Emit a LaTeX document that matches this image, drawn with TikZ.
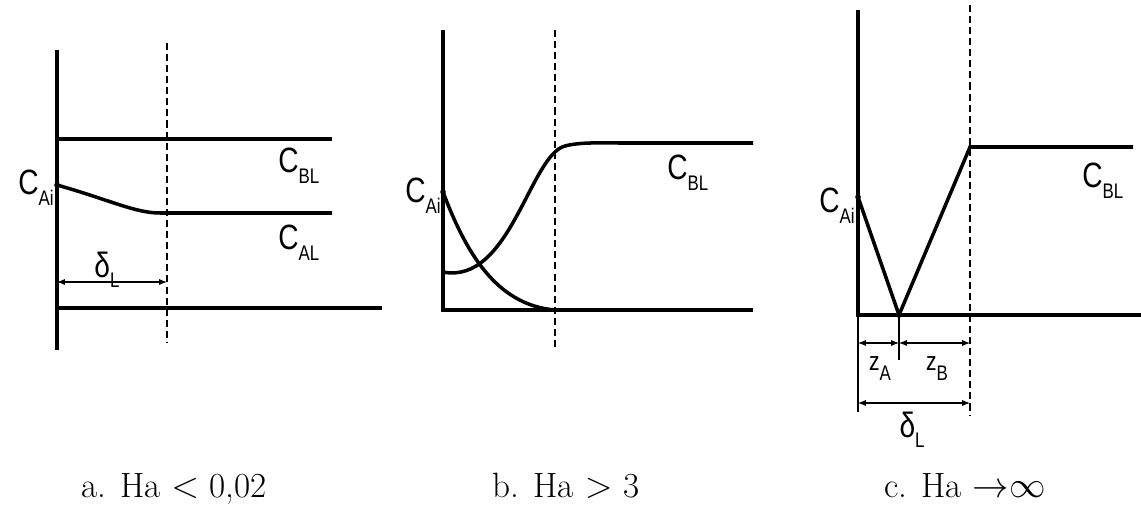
\documentclass[tikz,border=0pt]{standalone}
\usepackage{fontspec}
\newfontfamily\lblfont[FakeStretch=0.8]{Liberation Sans}
\usetikzlibrary{arrows.meta,positioning,calc}
\newcommand{\conc}[2]{#1\raisebox{-6pt}{\fontsize{12}{12}\selectfont #2}}

\begin{document}
\begin{tikzpicture}[x=0.02cm,y=-0.02cm,
  axis/.style={line width=2.3pt},
  curve/.style={line width=2pt},
  limit/.style={line width=1.2pt,dash pattern=on 4pt off 2.3pt},
  dim/.style={line width=0.6pt,{Latex[length=4.5pt,width=3.5pt]}-{Latex[length=4.5pt,width=3.5pt]}},
  ext/.style={line width=0.6pt},
  lbl/.style={font=\lblfont\fontsize{20}{20}\selectfont,inner sep=0pt},
  zlbl/.style={font=\lblfont\fontsize{15}{15}\selectfont,inner sep=0pt},
  capt/.style={font=\fontsize{20}{24}\selectfont,inner sep=0pt}]
  \useasboundingbox (0,0) rectangle (1141,506);
  % a. Ha < 0,02
  \coordinate (aTop) at (57,50);
  \coordinate (aBot) at (57,350);
  \coordinate (aBa) at (57,139);
  \coordinate (aBb) at (332,139);
  \coordinate (aCi) at (57,185);
  \coordinate (aAk) at (160,213);
  \coordinate (aAb) at (332,213);
  \coordinate (aLa) at (57,308);
  \coordinate (aLb) at (382,308);
  \coordinate (aDa) at (167,43);
  \coordinate (aDb) at (167,342);
  \coordinate (aWa) at (57,282);
  \coordinate (aWb) at (167,282);
  \draw[axis] (aTop) -- (aBot);
  \draw[curve] (aBa) -- (aBb);
  \draw[curve] (aCi) .. controls (110,200) and (135,213) .. (aAk) -- (aAb);
  \draw[curve] (aLa) -- (aLb);
  \draw[limit] (aDa) -- (aDb);
  \draw[dim] (aWa) -- (aWb);
  \fill (aCi) circle (1.6pt);
  \node[lbl,anchor=base east] (aCAi) at (54,195) {\conc{C}{Ai}};
  \node[lbl,anchor=base west] (aCBL) at (278,173) {\conc{C}{BL}};
  \node[lbl,anchor=base west] (aCAL) at (278,250) {\conc{C}{AL}};
  \node[lbl,anchor=base] (aDL) at (107,277) {\conc{δ}{L}};
  % b. Ha > 3
  \coordinate (bTop) at (443,30);
  \coordinate (bOr) at (443,310);
  \coordinate (bEnd) at (753,310);
  \coordinate (bDa) at (555,30);
  \coordinate (bDb) at (555,350);
  \coordinate (bBs) at (443,272);
  \coordinate (bBk) at (565,146);
  \coordinate (bBm) at (620,143);
  \coordinate (bBe) at (753,143);
  \coordinate (bCi) at (443,192);
  \coordinate (bAk) at (555,310);
  \coordinate (bAe) at (720,310);
  \draw[axis] (bTop) -- (bOr) -- (bEnd);
  \draw[limit] (bDa) -- (bDb);
  \draw[curve] (bBs) .. controls (510,285) and (530,155) .. (bBk)
    .. controls (580,142) and (600,143) .. (bBm) -- (bBe);
  \draw[curve] (bCi) .. controls (465,250) and (495,305) .. (bAk) -- (bAe);
  \fill (bCi) circle (1.6pt);
  \node[lbl,anchor=base east] (bCAi) at (441,203) {\conc{C}{Ai}};
  \node[lbl,anchor=base west] (bCBL) at (667,180) {\conc{C}{BL}};
  % c. Ha -> oo
  \coordinate (cTop) at (858,10);
  \coordinate (cOr) at (858,315);
  \coordinate (cEnd) at (1141,315);
  \coordinate (cCi) at (858,197);
  \coordinate (cMin) at (899,315);
  \coordinate (cBk) at (970,147);
  \coordinate (cBe) at (1133,147);
  \coordinate (cDa) at (970,5);
  \coordinate (cDb) at (970,415);
  \coordinate (cXa) at (858,412);
  \coordinate (cXm) at (899,360);
  \coordinate (cZa) at (858,343);
  \coordinate (cZm) at (899,343);
  \coordinate (cZb) at (970,343);
  \coordinate (cWa) at (858,403);
  \coordinate (cWb) at (970,403);
  \draw[axis] (cTop) -- (cOr) -- (cEnd);
  \draw[curve] (cCi) -- (cMin) -- (cBk) -- (cBe);
  \draw[limit] (cDa) -- (cDb);
  \draw[ext] (cOr) -- (cXa);
  \draw[ext] (cMin) -- (cXm);
  \draw[dim] (cZa) -- (cZm);
  \draw[dim] (cZm) -- (cZb);
  \draw[dim] (cWa) -- (cWb);
  \fill (cCi) circle (1.6pt);
  \fill (cMin) circle (1.6pt);
  \node[lbl,anchor=base east] (cCAi) at (855,213) {\conc{C}{Ai}};
  \node[lbl,anchor=base west] (cCBL) at (1082,188) {\conc{C}{BL}};
  \node[zlbl,anchor=base] (cZA) at (880,370) {\conc{z}{A}};
  \node[zlbl,anchor=base] (cZB) at (937,370) {\conc{z}{B}};
  \node[lbl,anchor=base] (cDL) at (912,437) {\conc{δ}{L}};
  % rotulos
  \node[capt,anchor=base] (capa) at (174,497) {a. Ha $<$ 0,02};
  \node[capt,anchor=base] (capb) at (566,497) {b. Ha $>$ 3};
  \node[capt,anchor=base] (capc) at (965,497) {c. Ha $\mathord{\rightarrow}\infty$};
\end{tikzpicture}
\end{document}
